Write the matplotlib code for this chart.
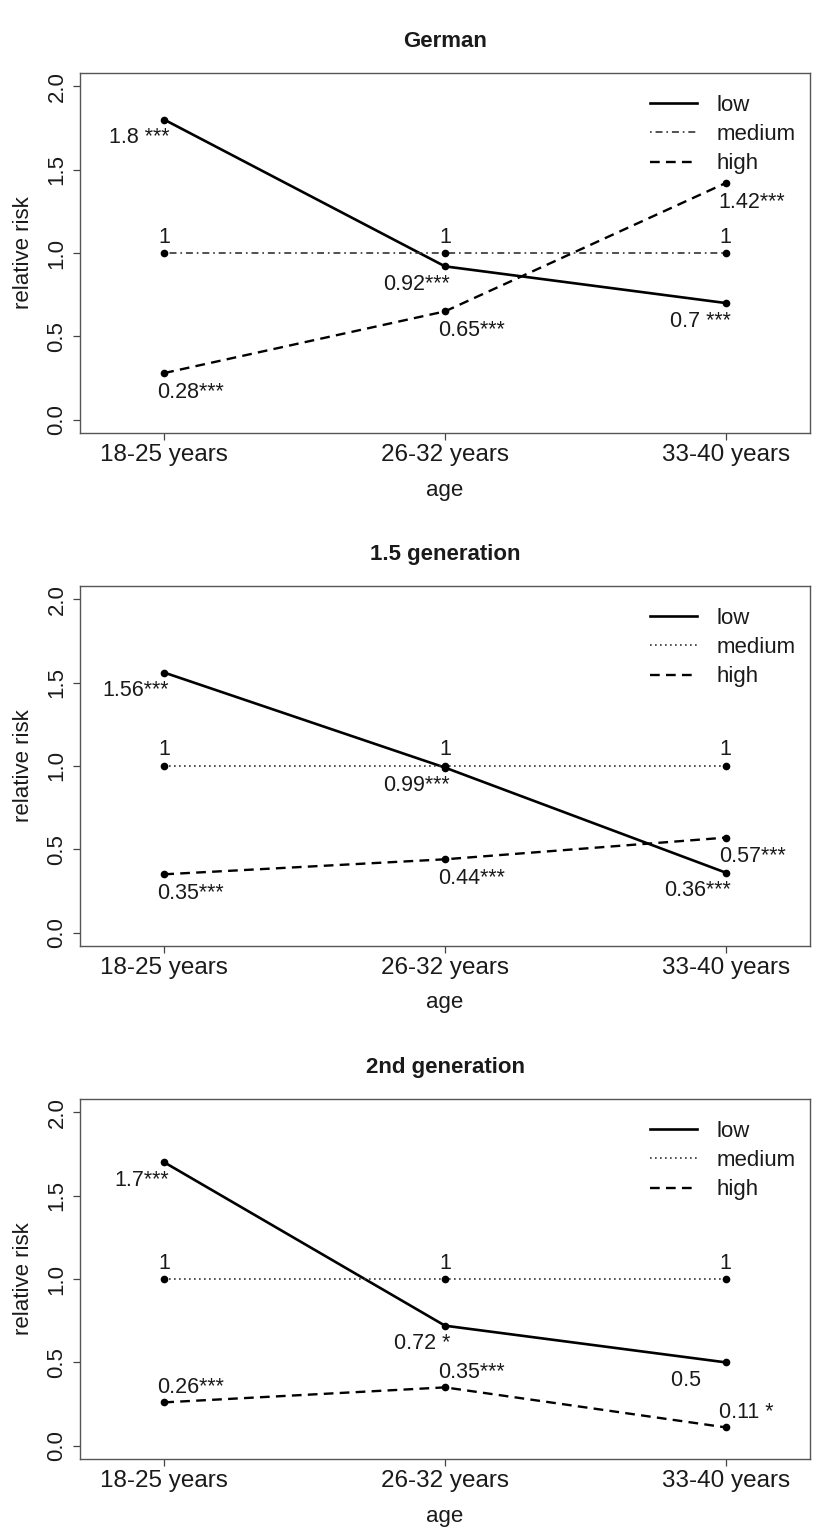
import matplotlib
matplotlib.use('Agg')
import matplotlib.pyplot as plt
from matplotlib.lines import Line2D

plt.rcParams['font.family'] = ['Liberation Sans', 'DejaVu Sans']
plt.rcParams['lines.scale_dashes'] = False

# ---------------- data ----------------
ages = ['18-25 years', '26-32 years', '33-40 years']
xpos = [1, 2, 3]
titles = ['German', '1.5 generation', '2nd generation']
yticks = [0.0, 0.5, 1.0, 1.5, 2.0]
ytick_labels = ['0.0', '0.5', '1.0', '1.5', '2.0']
legend_labels = ['low', 'medium', 'high']

german_low = [1.8, 0.92, 0.7]
german_medium = [1, 1, 1]
german_high = [0.28, 0.65, 1.42]
german_low_labels = ['1.8 ***', '0.92***', '0.7 ***']
german_medium_labels = ['1', '1', '1']
german_high_labels = ['0.28***', '0.65***', '1.42***']

gen15_low = [1.56, 0.99, 0.36]
gen15_medium = [1, 1, 1]
gen15_high = [0.35, 0.44, 0.57]
gen15_low_labels = ['1.56***', '0.99***', '0.36***']
gen15_medium_labels = ['1', '1', '1']
gen15_high_labels = ['0.35***', '0.44***', '0.57***']

gen2_low = [1.7, 0.72, 0.5]
gen2_medium = [1, 1, 1]
gen2_high = [0.26, 0.35, 0.11]
gen2_low_labels = ['1.7***', '0.72 *', '0.5     ']
gen2_medium_labels = ['1', '1', '1']
gen2_high_labels = ['0.26***', '0.35***', '0.11 *']

panels = [
    (german_low, german_medium, german_high,
     german_low_labels, german_medium_labels, german_high_labels),
    (gen15_low, gen15_medium, gen15_high,
     gen15_low_labels, gen15_medium_labels, gen15_high_labels),
    (gen2_low, gen2_medium, gen2_high,
     gen2_low_labels, gen2_medium_labels, gen2_high_labels),
]
# ---------------- style ----------------
medium_styles = [(0, (1.2, 2.8, 5, 2.8)), (0, (1.2, 2.4)), (0, (1.2, 2.4))]
high_above = [False, False, True]
bottoms = [0.7164, 0.3805, 0.0445]
PX = 0.72  # points per pixel at dpi 100
TXT = '#1a1a1a'

fig = plt.figure(figsize=(8.39, 15.27), dpi=100)

for i, (lo, me, hi, lo_lab, me_lab, hi_lab) in enumerate(panels):
    ax = fig.add_axes([0.0954, bottoms[i], 0.870, 0.2358])
    ax.plot(xpos, lo, color='black', lw=1.9, marker='o', ms=4.5)
    ax.plot(xpos, me, color='#333333', lw=1.2, ls=medium_styles[i],
            marker='o', ms=4.5, mfc='black', mec='black')
    ax.plot(xpos, hi, color='black', lw=1.7, ls=(0, (7, 4.5)),
            marker='o', ms=4.5)

    for x, y, t in zip(xpos, lo, lo_lab):
        ax.annotate(t, (x, y), xytext=(5 * PX, -18 * PX),
                    textcoords='offset points', ha='right', va='center',
                    fontsize=15.5, color=TXT)
    for x, y, t in zip(xpos, me, me_lab):
        ax.annotate(t, (x, y), xytext=(0, 16 * PX),
                    textcoords='offset points', ha='center', va='center',
                    fontsize=15.5, color=TXT)
    dy = 15 if high_above[i] else -19
    for x, y, t in zip(xpos, hi, hi_lab):
        ax.annotate(t, (x, y), xytext=(-7 * PX, dy * PX),
                    textcoords='offset points', ha='left', va='center',
                    fontsize=15.5, color=TXT)

    ax.set_xlim(0.7, 3.3)
    ax.set_ylim(-0.08, 2.08)
    ax.set_xticks(xpos)
    ax.set_xticklabels(ages, fontsize=17.5, color=TXT)
    ax.set_yticks(yticks)
    ax.set_yticklabels(ytick_labels, fontsize=16, color=TXT,
                       rotation=90, va='center')
    ax.tick_params(direction='out', length=5, width=0.9, colors='#444444',
                   labelcolor=TXT)
    ax.tick_params(axis='x', pad=3)
    ax.tick_params(axis='y', pad=4)
    for s in ax.spines.values():
        s.set_color('#555555')
        s.set_linewidth(1.0)

    ax.text(0.5, 1 + 31 / 360, titles[i], transform=ax.transAxes,
            ha='center', va='center', fontsize=16, fontweight='bold',
            color=TXT)
    ax.text(0.5, -57 / 360, 'age', transform=ax.transAxes,
            ha='center', va='center', fontsize=16, color=TXT)
    ax.text(-57 / 730, 0.5, 'relative risk', transform=ax.transAxes,
            ha='center', va='center', rotation=90, fontsize=16, color=TXT)

    handles = [
        Line2D([], [], color='black', lw=1.9),
        Line2D([], [], color='#333333', lw=1.2, ls=medium_styles[i]),
        Line2D([], [], color='black', lw=1.7, ls=(0, (7, 4.5))),
    ]
    ax.legend(handles, legend_labels, loc='upper left',
              bbox_to_anchor=(0.781, 0.94), frameon=False, fontsize=16,
              handlelength=2.1, handletextpad=0.9, labelspacing=0.38,
              borderpad=0, borderaxespad=0, labelcolor=TXT)

fig.savefig('out.png', dpi=100)
